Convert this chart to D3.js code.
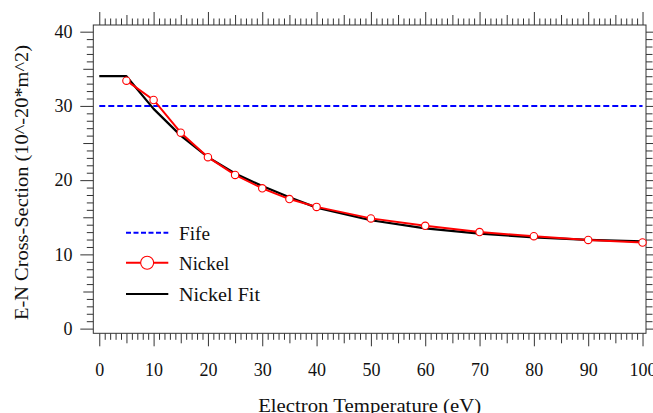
<!DOCTYPE html>
<html>
<head>
<meta charset="utf-8">
<script src="https://cdn.jsdelivr.net/npm/d3@7"></script>
<style>
  html, body { margin: 0; padding: 0; background: #fff; }
  svg { display: block; }
  text { font-family: "Liberation Serif", "Times New Roman", serif; fill: #111; }
</style>
</head>
<body>
<svg id="chart" width="653" height="413"></svg>
<script>
// ---- data ----
const nickelX = [5, 10, 15, 20, 25, 30, 35, 40, 50, 60, 70, 80, 90, 100];
const nickelY = [33.4, 30.8, 26.4, 23.1, 20.7, 18.9, 17.45, 16.4, 14.85, 13.85, 13.0, 12.45, 11.95, 11.6];
const fitX = [0, 5, 10, 15, 20, 25, 30, 35, 40, 50, 60, 70, 80, 90, 100];
const fitY = [34, 34, 29.6, 26.0, 23.1, 20.9, 19.2, 17.7, 16.3, 14.6, 13.5, 12.8, 12.3, 11.95, 11.75];
const fifeX = [0, 100];
const fifeY = [30, 30];
const xTicks = [0, 10, 20, 30, 40, 50, 60, 70, 80, 90, 100];
const yTicks = [0, 10, 20, 30, 40];
const seriesNames = ["Fife", "Nickel", "Nickel Fit"];
const xTitle = "Electron Temperature (eV)";
const yTitle = "E-N Cross-Section (10^-20*m^2)";

// ---- layout ----
const frame = { left: 93.3, right: 646, top: 25, bottom: 333.3 };
const svg = d3.select("#chart");

const x = d3.scaleLinear().domain([-1.1, 100.64]).range([frame.left, frame.right]);
const y = d3.scaleLinear().domain([-0.63, 40.9]).range([frame.bottom, frame.top]);

const minorX = d3.range(0, 101, 1).filter(v => v % 5 !== 0);
const medX = d3.range(5, 100, 10);
const minorY = d3.range(0, 41, 1).filter(v => v % 5 !== 0);
const medY = d3.range(5, 40, 10);

const tickColor = "#333";
function styleAxis(g) {
  g.select(".domain").remove();
  g.selectAll(".tick line").attr("stroke", tickColor).attr("stroke-width", 1);
  g.selectAll(".tick text").style("font-size", "18px").attr("fill", "#111");
}

function addAxes(axisFn, scale, transform, majors, showLabels, pad) {
  const sets = [[minorX, 6.5], [medX, 10], [majors, 13]];
  return sets;
}

// bottom axis
[[minorX, 6.5, false], [medX, 10, false], [xTicks, 13, true]].forEach(([vals, size, lab]) => {
  const a = d3.axisBottom(x).tickValues(vals).tickSize(size).tickPadding(17)
    .tickFormat(lab ? d3.format("d") : "");
  svg.append("g").attr("transform", `translate(0,${frame.bottom})`).call(a).call(styleAxis);
});
// top axis
[[minorX, 6.5], [medX, 10], [xTicks, 13]].forEach(([vals, size]) => {
  const a = d3.axisTop(x).tickValues(vals).tickSize(size).tickFormat("");
  svg.append("g").attr("transform", `translate(0,${frame.top})`).call(a).call(styleAxis);
});
// left axis
[[minorY, 6.5, false], [medY, 10, false], [yTicks, 13, true]].forEach(([vals, size, lab]) => {
  const a = d3.axisLeft(y).tickValues(vals).tickSize(size).tickPadding(7.8)
    .tickFormat(lab ? d3.format("d") : "");
  svg.append("g").attr("transform", `translate(${frame.left},0)`).call(a).call(styleAxis);
});
// right axis
[[minorY, 6.5], [medY, 10], [yTicks, 13]].forEach(([vals, size]) => {
  const a = d3.axisRight(y).tickValues(vals).tickSize(size).tickFormat("");
  svg.append("g").attr("transform", `translate(${frame.right},0)`).call(a).call(styleAxis);
});

// frame
svg.append("rect")
  .attr("x", frame.left).attr("y", frame.top)
  .attr("width", frame.right - frame.left).attr("height", frame.bottom - frame.top)
  .attr("fill", "none").attr("stroke", tickColor).attr("stroke-width", 1);

// ---- series ----
const line = d3.line().x(d => x(d[0])).y(d => y(d[1]));
const fife = d3.zip(fifeX, fifeY);
const fit = d3.zip(fitX, fitY);
const nickel = d3.zip(nickelX, nickelY);

svg.append("path").datum(fife).attr("d", line)
  .attr("fill", "none").attr("stroke", "#0000ff").attr("stroke-width", 2)
  .attr("stroke-dasharray", "6,3");

svg.append("path").datum(fit).attr("d", line)
  .attr("fill", "none").attr("stroke", "#000").attr("stroke-width", 2.2)
  .attr("stroke-linejoin", "round");

svg.append("path").datum(nickel).attr("d", line)
  .attr("fill", "none").attr("stroke", "#ff0000").attr("stroke-width", 2)
  .attr("stroke-linejoin", "round");

svg.append("g").selectAll("circle").data(nickel).join("circle")
  .attr("cx", d => x(d[0])).attr("cy", d => y(d[1])).attr("r", 3.7)
  .attr("fill", "#fff").attr("stroke", "#ff0000").attr("stroke-width", 1.1);

// ---- legend ----
const lg = svg.append("g");
const rowsY = [232.7, 262.7, 294];
const baseY = [239.5, 270, 300.7];
const textLens = [31, 50.3, 81];
const lx0 = 126, lx1 = 168.3, tx = 179;

lg.append("line").attr("x1", lx0).attr("x2", lx1).attr("y1", rowsY[0]).attr("y2", rowsY[0])
  .attr("stroke", "#0000ff").attr("stroke-width", 2).attr("stroke-dasharray", "5,2.5");
lg.append("line").attr("x1", lx0).attr("x2", lx1).attr("y1", rowsY[1]).attr("y2", rowsY[1])
  .attr("stroke", "#ff0000").attr("stroke-width", 2);
lg.append("circle").attr("cx", (lx0 + lx1) / 2).attr("cy", rowsY[1]).attr("r", 6.5)
  .attr("fill", "#fff").attr("stroke", "#ff0000").attr("stroke-width", 1.1);
lg.append("line").attr("x1", lx0).attr("x2", lx1).attr("y1", rowsY[2]).attr("y2", rowsY[2])
  .attr("stroke", "#000").attr("stroke-width", 2.2);

seriesNames.forEach((n, i) => {
  lg.append("text").attr("x", tx).attr("y", baseY[i]).text(n)
    .style("font-size", "18px")
    .attr("textLength", textLens[i]).attr("lengthAdjust", "spacingAndGlyphs");
});

// ---- titles ----
svg.append("text")
  .attr("x", (frame.left + frame.right) / 2).attr("y", 411.5)
  .attr("text-anchor", "middle").style("font-size", "18px")
  .attr("textLength", 223).attr("lengthAdjust", "spacingAndGlyphs")
  .text(xTitle);

svg.append("text")
  .attr("transform", `translate(27.5,182.5) rotate(-90)`)
  .attr("text-anchor", "middle").style("font-size", "18px")
  .attr("textLength", 275).attr("lengthAdjust", "spacingAndGlyphs")
  .text(yTitle);
</script>
</body>
</html>
